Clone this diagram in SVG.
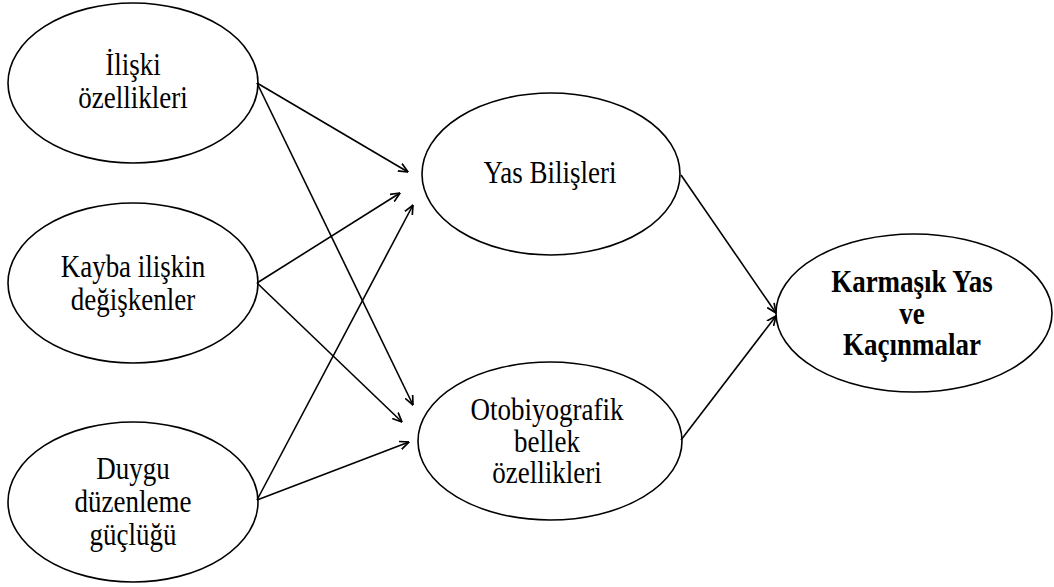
<svg xmlns="http://www.w3.org/2000/svg" width="1054" height="587" viewBox="0 0 1054 587">
<style>
.n{fill:#fff;stroke:#000;stroke-width:1.6}
.t{font-family:'Liberation Serif','DejaVu Serif',serif;font-size:27px;fill:#000;text-anchor:middle}
.b{font-weight:bold}
.c line{stroke:#000;stroke-width:1.6;marker-end:url(#ah)}
</style>
<defs>
<marker id="ah" viewBox="0 0 10 10" refX="9.5" refY="5" markerWidth="10" markerHeight="10" markerUnits="userSpaceOnUse" orient="auto">
<path d="M0,0.8 L9.5,5 L0,9.2" fill="none" stroke="#000" stroke-width="1.7"/>
</marker>
</defs>
<rect width="1054" height="587" fill="#fff"/>
<g id="n1"><ellipse class="n" cx="133" cy="83" rx="125" ry="80"/>
<text class="t" font-family="Liberation Serif, serif" transform="translate(133,75) scale(1,1.15)"><tspan x="0" y="0">İlişki</tspan><tspan x="0" y="28.5">özellikleri</tspan></text></g>
<g id="n2"><ellipse class="n" cx="133" cy="283" rx="125" ry="80"/>
<text class="t" font-family="Liberation Serif, serif" transform="translate(133,277) scale(1,1.15)"><tspan x="0" y="0">Kayba ilişkin</tspan><tspan x="0" y="28.5">değişkenler</tspan></text></g>
<g id="n3"><ellipse class="n" cx="133" cy="502" rx="125" ry="80"/>
<text class="t" font-family="Liberation Serif, serif" transform="translate(133,479) scale(1,1.15)"><tspan x="0" y="0">Duygu</tspan><tspan x="0" y="28.5">düzenleme</tspan><tspan x="0" y="57">güçlüğü</tspan></text></g>
<g id="n4"><ellipse class="n" cx="551" cy="174" rx="129" ry="81"/>
<text class="t" font-family="Liberation Serif, serif" transform="translate(550,183) scale(1,1.15)">Yas Bilişleri</text></g>
<g id="n5"><ellipse class="n" cx="550" cy="441" rx="132" ry="79"/>
<text class="t" font-family="Liberation Serif, serif" transform="translate(547,420) scale(1,1.15)"><tspan x="0" y="0">Otobiyografik</tspan><tspan x="0" y="27.5">bellek</tspan><tspan x="0" y="55">özellikleri</tspan></text></g>
<g id="n6"><ellipse class="n" cx="914" cy="313" rx="138" ry="79"/>
<text class="t b" font-family="Liberation Serif, serif" transform="translate(912,292) scale(1,1.15)"><tspan x="0" y="0">Karmaşık Yas</tspan><tspan x="0" y="27.5">ve</tspan><tspan x="0" y="55">Kaçınmalar</tspan></text></g>
<g id="connectors" class="c">
<line x1="257" y1="83" x2="408" y2="172"/>
<line x1="257" y1="83" x2="413" y2="405"/>
<line x1="257" y1="283" x2="400" y2="193"/>
<line x1="257" y1="283" x2="402" y2="422"/>
<line x1="257" y1="500" x2="413" y2="205"/>
<line x1="257" y1="500" x2="409" y2="442"/>
<line x1="681" y1="175" x2="776" y2="313"/>
<line x1="681" y1="440" x2="776" y2="316"/>
</g>
</svg>
